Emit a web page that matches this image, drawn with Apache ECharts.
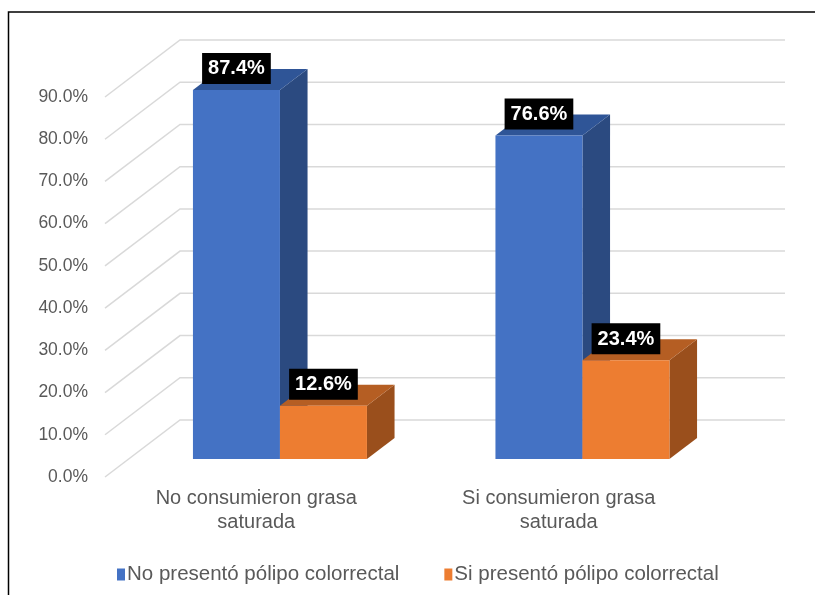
<!DOCTYPE html>
<html>
<head>
<meta charset="utf-8">
<script src="https://cdn.jsdelivr.net/npm/echarts@6/dist/echarts.min.js"></script>
<style>
  html, body { margin: 0; padding: 0; background: #fff; }
  #chart { width: 815px; height: 595px; }
</style>
</head>
<body>
<div id="chart"></div>
<script>
// data
var categories = ['No consumieron grasa\nsaturada', 'Si consumieron grasa\nsaturada'];
var seriesNames = ['No presentó pólipo colorrectal', 'Si presentó pólipo colorrectal'];
var noPolipo = [87.4, 76.6];
var siPolipo = [12.6, 23.4];
var yTicks = [0, 10, 20, 30, 40, 50, 60, 70, 80, 90];

// fake 3d projection (pixels of depth for the back wall)
var DX = 75, DY = 57;
var D0 = 0.316, D1 = 0.684;   // bar front / back depth
var BAR_RATIO = 0.2876;
var FONT = '"Liberation Sans", Arial, sans-serif';

var blue = ['#4472C4', '#2F5597', '#2B4A80'];
var orange = ['#ED7D31', '#B55E23', '#9A4F1C'];

function gridItem(params, api) {
  var cs = params.coordSys;
  var y = api.coord([0, api.value(1)])[1];
  var x0 = cs.x;
  return {
    type: 'polyline',
    shape: { points: [[x0, y], [x0 + DX, y - DY], [x0 + DX + cs.width, y - DY]] },
    style: { stroke: '#D9D9D9', lineWidth: 1.5, fill: null }
  };
}

function bar3d(pos, colors) {
  return function (params, api) {
    var cat = api.value(0), val = api.value(1);
    var top = api.coord([cat, val]);
    var base = api.coord([cat, 0]);
    var w = api.size([1, 0])[0] * BAR_RATIO;
    var fx = top[0] + (pos === 0 ? -w : 0) + DX * D0;
    var yt = top[1] - DY * D0;
    var yb = base[1] - DY * D0;
    var bx = DX * (D1 - D0), by = DY * (D1 - D0);
    return {
      type: 'group',
      children: [
        { type: 'polygon', shape: { points: [[fx + w, yt], [fx + w + bx, yt - by], [fx + w + bx, yb - by], [fx + w, yb]] },
          style: { fill: colors[2] } },
        { type: 'polygon', shape: { points: [[fx, yt], [fx + bx, yt - by], [fx + w + bx, yt - by], [fx + w, yt]] },
          style: { fill: colors[1] } },
        { type: 'rect', shape: { x: fx, y: yt, width: w, height: yb - yt },
          style: { fill: colors[0] } },
        { type: 'text', x: fx + w / 2, y: yt - 6, z2: 10,
          style: {
            text: val.toFixed(1) + '%', fill: '#fff', backgroundColor: '#000',
            padding: [6, 6, 5, 6], font: 'bold 20px ' + FONT, lineHeight: 20,
            align: 'center', verticalAlign: 'bottom'
          } }
      ]
    };
  };
}

var chart = echarts.init(document.getElementById('chart'));
chart.setOption({
  animation: false,
  backgroundColor: '#fff',
  graphic: [{
    type: 'rect', shape: { x: 8.5, y: 12, width: 1000, height: 1000 },
    style: { fill: null, stroke: '#000', lineWidth: 1.5 }
  }],
  grid: { left: 105, right: 105, top: 97, bottom: 118 },
  legend: {
    left: 112, top: 559,
    icon: 'rect', itemWidth: 8, itemHeight: 12, itemGap: 45,
    textStyle: { color: '#595959', fontSize: 20.5, fontFamily: FONT, padding: [0, 0, 0, -3] },
    data: seriesNames
  },
  xAxis: {
    type: 'category', data: categories,
    axisLine: { show: false }, axisTick: { show: false },
    axisLabel: { interval: 0, margin: 10, color: '#595959', fontSize: 20, lineHeight: 23.5, fontFamily: FONT }
  },
  yAxis: {
    type: 'value', min: 0, max: 90, interval: 10,
    axisLine: { show: false }, axisTick: { show: false }, splitLine: { show: false },
    axisLabel: { margin: 17, color: '#595959', fontSize: 17.5, fontFamily: FONT,
      formatter: function (v) { return v.toFixed(1) + '%'; } }
  },
  series: [
    { type: 'custom', name: 'grid', z: 1, silent: true,
      renderItem: gridItem, data: yTicks.map(function (v) { return [0, v]; }) },
    { type: 'custom', name: seriesNames[0], z: 2, itemStyle: { color: blue[0] },
      renderItem: bar3d(0, blue), data: noPolipo.map(function (v, i) { return [i, v]; }) },
    { type: 'custom', name: seriesNames[1], z: 3, itemStyle: { color: orange[0] },
      renderItem: bar3d(1, orange), data: siPolipo.map(function (v, i) { return [i, v]; }) }
  ]
});
</script>
</body>
</html>
